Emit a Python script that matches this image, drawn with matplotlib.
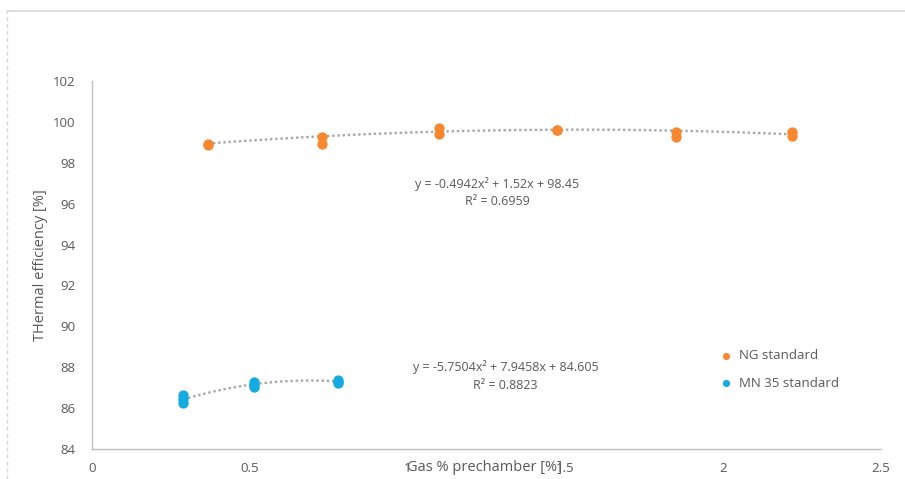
import matplotlib
matplotlib.use('agg')
import matplotlib.pyplot as plt
from matplotlib.lines import Line2D
import numpy as np

plt.rcParams['font.family'] = ['Open Sans', 'DejaVu Sans']

# NG standard (orange)
ng_x = [0.367, 0.367, 0.73, 0.73, 1.10, 1.10, 1.473, 1.473, 1.849, 1.849, 2.218, 2.218]
ng_y = [98.92, 98.88, 99.28, 98.91, 99.70, 99.41, 99.61, 99.59, 99.51, 99.26, 99.51, 99.31]
ng_coef = [-0.4942, 1.52, 98.45]
ng_eq = "y = -0.4942x\u00b2 + 1.52x + 98.45"
ng_r2 = "R\u00b2 = 0.6959"

# MN 35 standard (blue)
mn_x = [0.289, 0.289, 0.289, 0.514, 0.514, 0.514, 0.778, 0.778, 0.778]
mn_y = [86.64, 86.45, 86.24, 87.29, 87.15, 87.05, 87.38, 87.30, 87.23]
mn_coef = [-5.7504, 7.9458, 84.605]
mn_eq = "y = -5.7504x\u00b2 + 7.9458x + 84.605"
mn_r2 = "R\u00b2 = 0.8823"

xticks = [0, 0.5, 1, 1.5, 2, 2.5]
xtick_labels = ['0', '0.5', '1', '1.5', '2', '2.5']
yticks = list(range(84, 103, 2))

orange = '#F7882F'
blue = '#14ABE3'
grey = '#595959'
trend = '#A6A6A6'


def main():
    fig = plt.figure(figsize=(9.05, 4.79), dpi=100)
    ax = fig.add_axes([92 / 905, 1 - 449 / 479, (881 - 92) / 905, (449 - 81) / 479])

    for xs, coef in ((ng_x, ng_coef), (mn_x, mn_coef)):
        xx = np.linspace(min(xs), max(xs), 100)
        ax.plot(xx, np.polyval(coef, xx), color=trend, lw=1.7, ls=(0, (1, 1.2)), zorder=1)

    ax.scatter(ng_x, ng_y, s=55, color=orange, zorder=3, label='NG standard', lw=0)
    ax.scatter(mn_x, mn_y, s=55, color=blue, zorder=3, label='MN 35 standard', lw=0)

    ax.set_xlim(0, 2.5)
    ax.set_ylim(84, 102)
    ax.set_xticks(xticks, xtick_labels)
    ax.set_yticks(yticks)
    ax.tick_params(length=0, colors=grey, labelsize=9.5)
    ax.tick_params(axis='y', pad=12)
    ax.tick_params(axis='x', pad=9)
    for s in ('top', 'right'):
        ax.spines[s].set_visible(False)
    for s in ('left', 'bottom'):
        ax.spines[s].set_color('#BFBFBF')
        ax.spines[s].set_linewidth(1)

    ax.set_ylabel('THermal efficiency [%]', color=grey, fontsize=10.5)
    ax.yaxis.set_label_coords(-0.056, 0.5)
    ax.set_xlabel('Gas % prechamber [%]', color=grey, fontsize=10.5, ha='left')
    ax.xaxis.set_label_coords(0.399, -0.03)

    ax.text(1.283, 96.97, ng_eq, ha='center', va='center', color=grey, fontsize=9)
    ax.text(1.283, 96.1, ng_r2, ha='center', va='center', color=grey, fontsize=9)
    ax.text(1.31, 88.0, mn_eq, ha='center', va='center', color=grey, fontsize=9)
    ax.text(1.31, 87.12, mn_r2, ha='center', va='center', color=grey, fontsize=9)

    leg = ax.legend(loc='upper left', bbox_to_anchor=(0.78, 0.285), frameon=False,
                    handletextpad=0.0, labelspacing=1.1, fontsize=9.5,
                    markerscale=0.7, borderaxespad=0)
    for t in leg.get_texts():
        t.set_color(grey)

    # outer chart border (cropped)
    fig.add_artist(Line2D([7 / 905, 1], [1 - 10.7 / 479] * 2, color='#D9D9D9', lw=1.2,
                          transform=fig.transFigure))
    fig.add_artist(Line2D([7 / 905] * 2, [0, 1 - 10.7 / 479], color='#D9D9D9', lw=1.0,
                          ls=(0, (3, 2)), transform=fig.transFigure))

    fig.savefig('out.png', dpi=100)


if __name__ == '__main__':
    main()
